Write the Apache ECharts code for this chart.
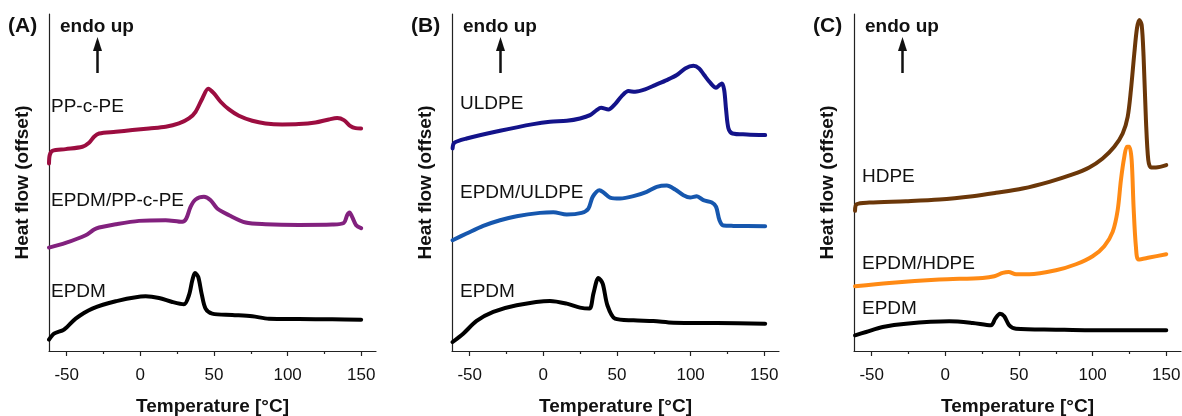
<!DOCTYPE html>
<html>
<head>
<meta charset="utf-8">
<script src="https://cdn.jsdelivr.net/npm/echarts@6/dist/echarts.min.js"></script>
<style>
  html, body { margin: 0; padding: 0; background: #fff; }
  #chart { width: 1182px; height: 416px; }
</style>
</head>
<body>
<div id="chart"></div>
<script>
// temperature [°C], heat flow (offset, arbitrary units)
var majorTicks = [-50, 0, 50, 100, 150];
var minorTicks = [-25, 25, 75, 125];
var panelNames = ['(A)', '(B)', '(C)'];

var ppcpe = [[-62,56.2],[-61.5,58.7],[-59.7,60.0],[-50.7,60.5],[-39.3,61.2],[-34.8,62.4],[-31.4,64.2],[-28.0,65.2],[-16.7,65.7],[-5.4,66.2],[5.9,66.7],[17.2,67.2],[26.2,68.2],[33.0,69.7],[37.5,71.7],[42.1,75.7],[46.1,78.6],[50.0,77.2],[54.5,74.7],[60.2,72.4],[66.9,70.5],[76.0,69.0],[85.0,68.2],[96.3,67.9],[107.6,68.0],[118.9,68.5],[128.0,69.4],[133.7,69.8],[138.2,69.2],[142.7,67.4],[146.1,66.8],[149.9,66.7]];
var epdmPpcpe = [[-62,31.0],[-50.7,32.4],[-37.1,34.7],[-31.4,36.4],[-28.0,37.0],[-16.7,38.0],[-0.9,39.0],[17.2,39.2],[28.5,38.7],[31.2,39.7],[34.1,43.2],[37.5,45.4],[43.2,46.2],[47.7,45.2],[52.2,42.7],[60.2,40.7],[71.5,38.5],[85.0,38.0],[107.6,37.8],[130.3,37.9],[138.2,38.4],[140.4,40.7],[142.0,41.5],[143.8,40.2],[146.5,37.7],[149.9,36.8]];
var epdmA = [[-62,3.4],[-58.6,5.2],[-51.8,6.4],[-43.9,9.7],[-32.6,12.7],[-16.7,14.9],[3.6,16.4],[12.7,15.9],[21.7,14.7],[29.6,14.0],[33.0,16.7],[35.3,21.2],[37.1,23.4],[39.3,22.2],[41.6,17.2],[44.3,12.7],[48.8,11.2],[62.4,10.8],[76.0,10.4],[87.3,9.7],[107.6,9.6],[130.3,9.5],[149.9,9.4]];

var uldpe = [[-61.6,60.7],[-60.5,62.4],[-52.1,63.7],[-29.4,66.0],[-6.8,68.0],[4.5,68.7],[15.9,69.0],[24.9,69.7],[31.7,70.7],[36.2,72.2],[39.2,72.9],[44.2,72.4],[48.7,74.0],[53.2,76.4],[57.8,77.9],[62.3,77.7],[69.1,78.4],[75.9,79.7],[83.8,81.2],[90.6,82.7],[96.3,84.7],[101.9,85.5],[105.8,84.7],[109.2,82.7],[113.3,80.4],[117.3,78.9],[119.6,79.7],[121.2,80.2],[122.8,78.2],[124.1,72.2],[125.7,66.7],[128.4,65.2],[138.2,64.9],[150.6,64.7]];
var epdmUldpe = [[-61.6,33.2],[-52.1,35.2],[-40.8,37.5],[-29.4,39.2],[-18.1,40.4],[-2.3,41.4],[6.8,41.6],[15.9,40.9],[26.0,41.4],[30.6,42.7],[33.5,46.2],[38.1,48.2],[41.2,47.4],[45.3,46.0],[52.1,45.7],[61.2,46.4],[70.2,47.7],[77.0,49.2],[83.8,49.6],[89.5,48.4],[95.1,46.7],[99.7,46.0],[104.2,46.4],[108.7,45.2],[114.4,44.5],[117.3,43.2],[119.6,39.2],[122.3,37.6],[129.1,37.5],[150.6,37.4]];
var epdmB = [[-61.6,2.7],[-54.4,5.2],[-45.3,9.0],[-34.0,11.7],[-18.1,13.7],[4.5,15.0],[15.9,14.2],[24.9,13.0],[31.3,12.7],[34.0,17.2],[37.4,21.9],[40.3,20.2],[43.5,13.7],[48.7,9.7],[61.2,9.2],[74.7,9.0],[88.3,8.5],[117.8,8.4],[150.6,8.2]];

var hdpe = [[-61.3,42.0],[-60.2,44.0],[-51.6,44.5],[-26.7,44.9],[-4.1,45.4],[18.6,46.4],[34.4,47.4],[52.5,48.7],[70.6,50.7],[86.4,52.9],[97.7,55.0],[106.8,57.7],[114.7,61.2],[120.4,65.2],[123.8,70.2],[126.0,78.2],[128.3,89.2],[130.1,96.7],[131.7,99.2],[133.3,97.7],[134.6,88.2],[136.2,69.2],[137.8,57.2],[139.6,55.0],[143.0,55.0],[150.0,55.7]];
var epdmHdpe = [[-61.3,19.4],[-38.0,20.4],[-4.1,21.4],[25.3,21.9],[33.3,22.4],[38.9,23.4],[43.0,23.7],[48.0,23.0],[57.0,23.0],[75.1,24.2],[88.7,26.0],[100.0,28.4],[107.9,31.4],[113.6,35.7],[117.0,42.2],[119.2,51.2],[121.5,58.2],[123.3,61.2],[124.9,61.2],[126.5,57.2],[127.8,43.2],[129.4,31.2],[131.2,27.4],[138.5,28.0],[150.0,29.0]];
var epdmC = [[-61.3,4.7],[-53.8,5.7],[-42.5,7.2],[-26.7,8.2],[2.7,8.9],[18.6,8.4],[31.0,7.7],[33.9,9.7],[37.1,11.2],[40.0,10.4],[43.4,7.7],[48.0,6.7],[75.1,6.4],[97.7,6.2],[150.0,6.2]];

var panels = [
  { left: 49, series: [
    { name: 'PP-c-PE', data: ppcpe, color: '#9c0d40', lx: 51, ly: 108 },
    { name: 'EPDM/PP-c-PE', data: epdmPpcpe, color: '#82217e', lx: 51, ly: 202 },
    { name: 'EPDM', data: epdmA, color: '#000000', lx: 51, ly: 293 }
  ]},
  { left: 452, series: [
    { name: 'ULDPE', data: uldpe, color: '#13138a', lx: 460, ly: 105 },
    { name: 'EPDM/ULDPE', data: epdmUldpe, color: '#1657ae', lx: 460, ly: 194 },
    { name: 'EPDM', data: epdmB, color: '#000000', lx: 460, ly: 293 }
  ]},
  { left: 854, series: [
    { name: 'HDPE', data: hdpe, color: '#6b3709', lx: 862, ly: 178 },
    { name: 'EPDM/HDPE', data: epdmHdpe, color: '#ff8a14', lx: 862, ly: 265 },
    { name: 'EPDM', data: epdmC, color: '#000000', lx: 862, ly: 310 }
  ]}
];

var font = 'Liberation Sans, Arial, sans-serif';
var grids = [], xAxes = [], yAxes = [], series = [], graphics = [];

panels.forEach(function(p, i) {
  grids.push({ left: p.left, width: 327, top: 14, height: 337, outerBoundsMode: 'none', containLabel: false });
  xAxes.push({
    type: 'value', gridIndex: i, min: -62, max: 160, position: 'bottom',
    name: 'Temperature [°C]', nameLocation: 'middle', nameGap: 46,
    nameTextStyle: { fontFamily: font, fontWeight: 'bold', fontSize: 19, color: '#111' },
    axisLine: { onZero: false, lineStyle: { color: '#222', width: 1.2 } },
    axisTick: { inside: false, length: 5, customValues: majorTicks, lineStyle: { color: '#222', width: 1.2 } },
    axisLabel: { customValues: majorTicks, fontFamily: font, fontSize: 17, color: '#111', margin: 16 },
    splitLine: { show: false }
  });
  // minor ticks
  xAxes.push({
    type: 'value', gridIndex: i, min: -62, max: 160, position: 'bottom',
    axisLine: { show: false, onZero: false },
    axisTick: { length: 3, customValues: minorTicks, lineStyle: { color: '#222', width: 1.2 } },
    axisLabel: { show: false },
    splitLine: { show: false }
  });
  yAxes.push({
    type: 'value', gridIndex: i, min: 0, max: 101, position: 'left',
    name: 'Heat flow (offset)', nameLocation: 'middle', nameGap: 17,
    nameTextStyle: { fontFamily: font, fontWeight: 'bold', fontSize: 19, color: '#111' },
    axisLine: { show: true, onZero: false, lineStyle: { color: '#222', width: 1.2 } },
    axisTick: { show: false }, axisLabel: { show: false }, splitLine: { show: false }
  });
  p.series.forEach(function(s) {
    series.push({
      type: 'line', xAxisIndex: i * 2, yAxisIndex: i, data: s.data,
      smooth: 0.3, showSymbol: false, silent: true,
      lineStyle: { color: s.color, width: 4, cap: 'round', join: 'round' }
    });
    graphics.push({ type: 'text', left: s.lx, top: s.ly - 11,
      style: { text: s.name, font: '19px ' + font, fill: '#111' } });
  });
  // panel letter, "endo up", arrow
  var ax = p.left + 48.5;
  graphics.push({ type: 'text', left: p.left - 41, top: 16,
    style: { text: panelNames[i], font: 'bold 21px ' + font, fill: '#111' } });
  graphics.push({ type: 'text', left: p.left + 11, top: 17,
    style: { text: 'endo up', font: 'bold 19px ' + font, fill: '#111' } });
  graphics.push({ type: 'line', shape: { x1: ax, y1: 73, x2: ax, y2: 48 },
    style: { stroke: '#111', lineWidth: 2.5 } });
  graphics.push({ type: 'polygon', shape: { points: [[ax - 4.5, 51], [ax + 4.5, 51], [ax, 37]] },
    style: { fill: '#111' } });
});

var chart = echarts.init(document.getElementById('chart'));
chart.setOption({
  animation: false,
  backgroundColor: '#fff',
  grid: grids,
  xAxis: xAxes,
  yAxis: yAxes,
  series: series,
  graphic: graphics
});
</script>
</body>
</html>
